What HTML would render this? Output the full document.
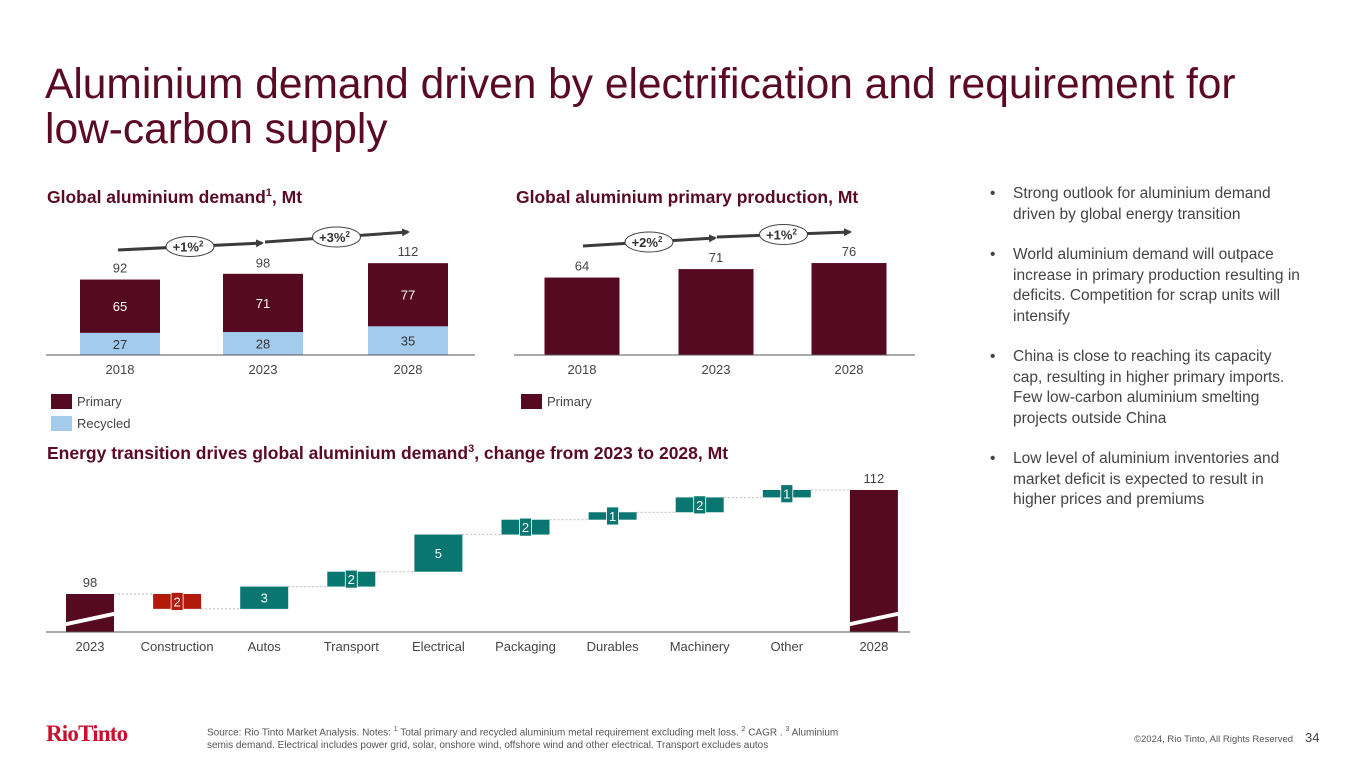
<!DOCTYPE html>
<html><head><meta charset="utf-8"><style>
body{margin:0;width:1365px;height:768px;background:#fff;font-family:"Liberation Sans",Arial,sans-serif;position:relative;overflow:hidden}
.abs{position:absolute}
h1{position:absolute;left:45px;top:62px;margin:0;font-weight:normal;font-size:42.5px;line-height:45px;color:#5a0a23;width:1260px}
.st{font-weight:bold;font-size:17.5px;color:#5a0a23}
.st sup{font-size:11px}
ul{position:absolute;left:990px;top:184px;margin:0;padding:0;list-style:none;font-size:15.5px;color:#444;line-height:20.5px;width:312px}
li{position:relative;padding-left:23px;margin-bottom:20px}
li:before{content:"•";position:absolute;left:0}
</style></head><body>
<h1>Aluminium demand driven by electrification and requirement for <span style="white-space:nowrap">low-carbon</span> supply</h1>
<div class="abs st" style="left:47px;top:187px">Global aluminium demand<sup>1</sup>, Mt</div>
<div class="abs st" style="left:516px;top:187px">Global aluminium primary production, Mt</div>
<div class="abs st" style="left:47px;top:443px">Energy transition drives global aluminium demand<sup>3</sup>, change from 2023 to 2028, Mt</div>
<ul>
<li>Strong outlook for aluminium demand driven by global energy transition</li>
<li>World aluminium demand will outpace increase in primary production resulting in deficits. Competition for scrap units will intensify</li>
<li>China is close to reaching its capacity cap, resulting in higher primary imports. Few low-carbon aluminium smelting projects outside China</li>
<li>Low level of aluminium inventories and market deficit is expected to result in higher prices and premiums</li>
</ul>
<div class="abs" style="left:46px;top:721px;font-family:'Liberation Serif',serif;font-size:23px;color:#c8102e;letter-spacing:-0.8px;font-weight:bold">RioTinto</div>
<div class="abs" style="left:207px;top:723px;font-size:10px;color:#555;line-height:13px;width:650px">Source: Rio Tinto Market Analysis. Notes: <sup style="font-size:7px">1</sup> Total primary and recycled aluminium metal requirement excluding melt loss. <sup style="font-size:7px">2</sup> CAGR . <sup style="font-size:7px">3</sup> Aluminium semis demand. Electrical includes power grid, solar, onshore wind, offshore wind and other electrical. Transport excludes autos</div>
<div class="abs" style="left:1134px;top:734px;font-size:9.5px;color:#555">©2024, Rio Tinto, All Rights Reserved</div>
<div class="abs" style="left:1305px;top:730px;font-size:13px;color:#444">34</div>
<svg id="c" class="abs" style="left:0;top:0" width="1365" height="768" font-family="Liberation Sans, Arial, sans-serif"></svg>
<script>
const demandYears=["2018","2023","2028"];
const demandPrimary=[65,71,77];
const demandRecycled=[27,28,35];
const demandTotals=[92,98,112];
const demandCagr=["+1%","+3%"];
const prodYears=["2018","2023","2028"];
const prodPrimary=[64,71,76];
const prodCagr=["+2%","+1%"];
const wfCategories=["2023","Construction","Autos","Transport","Electrical","Packaging","Durables","Machinery","Other","2028"];
const wfDeltas=[null,-2,3,2,5,2,1,2,1,null];
const wfStart=98;
const wfEnd=112;
const S=document.getElementById('c'),NS='http://www.w3.org/2000/svg';
function mk(t,a,p){const e=document.createElementNS(NS,t);for(const k in a)e.setAttribute(k,a[k]);(p||S).appendChild(e);return e;}
function txt(x,y,s,a,p){const e=mk('text',Object.assign({x:x,y:y,'text-anchor':'middle','font-size':13,fill:'#444'},a||{}),p);e.textContent=s;return e;}
const MAR='#560a22',REC='#a3cbed',TEAL='#0a7671',RED='#b21a0c';
mk('defs',{}).innerHTML='<marker id="ah" markerWidth="8" markerHeight="8" refX="6" refY="4" orient="auto" markerUnits="userSpaceOnUse"><path d="M0,0 L8,4 L0,8 z" fill="#3c3c3c"/></marker>';
function cagr(x1,y1,x2,y2,label,name){
 const g=mk('g',{});
 
 
 mk('line',{x1:x1,y1:y1,x2:x2,y2:y2,stroke:'#3c3c3c','stroke-width':3,'marker-end':'url(#ah)'},g);
 const cx=(x1+x2)/2,cy=(y1+y2)/2;
 mk('ellipse',{cx:cx,cy:cy,rx:24,ry:10,fill:'#fff',stroke:'#444','stroke-width':1},g);
 const t=txt(cx-2,cy+5,label,{'font-size':13,'font-weight':'bold',fill:'#333'},g);
 const s=document.createElementNS(NS,'tspan');s.setAttribute('dy','-5');s.setAttribute('font-size','8');s.textContent='2';t.appendChild(s);
}
(function(){
 const base=355,k=0.82,xs=[120,263,408],w=80;
 const y=v=>base-v*k;
 demandYears.forEach((yr,i)=>{
  const r=mk('rect',{x:xs[i]-w/2,y:y(demandRecycled[i]),width:w,height:demandRecycled[i]*k,fill:REC});
  
  const p=mk('rect',{x:xs[i]-w/2,y:y(demandRecycled[i]+demandPrimary[i]),width:w,height:demandPrimary[i]*k,fill:MAR});
  
  txt(xs[i],y(demandRecycled[i]/2)+5,demandRecycled[i],{fill:'#333'});
  txt(xs[i],y(demandRecycled[i]+demandPrimary[i]/2)+5,demandPrimary[i],{fill:'#fff'});
  txt(xs[i],y(demandTotals[i])-7,demandTotals[i]);
  txt(xs[i],374,yr);
 });
 mk('line',{x1:46,x2:475,y1:base,y2:base,stroke:'#555','stroke-width':1});
 cagr(118,250,262,243,demandCagr[0],'demand-cagr-2018-2023');
 cagr(265,242,408,232,demandCagr[1],'demand-cagr-2023-2028');
 const l1=mk('rect',{x:51,y:394,width:21,height:15,fill:MAR});
 txt(77,406,'Primary',{'text-anchor':'start'});
 const l2=mk('rect',{x:51,y:416,width:21,height:15,fill:REC});
 txt(77,428,'Recycled',{'text-anchor':'start'});
})();
(function(){
 const base=355,k=1.21,xs=[582,716,849],w=75;
 prodYears.forEach((yr,i)=>{
  const r=mk('rect',{x:xs[i]-w/2,y:base-prodPrimary[i]*k,width:w,height:prodPrimary[i]*k,fill:MAR});
  
  txt(xs[i],base-prodPrimary[i]*k-7,prodPrimary[i]);
  txt(xs[i],374,yr);
 });
 mk('line',{x1:514,x2:915,y1:base,y2:base,stroke:'#555','stroke-width':1});
 cagr(583,246,715,238,prodCagr[0],'production-cagr-2018-2023');
 cagr(717,237,850,232,prodCagr[1],'production-cagr-2023-2028');
 const l=mk('rect',{x:521,y:394,width:21,height:15,fill:MAR});
 txt(547,406,'Primary',{'text-anchor':'start'});
})();
(function(){
 const base=632,k=7.43,x0=90,dx=87.1,w=48;
 const y=v=>594-(v-wfStart)*k;
 let cum=wfStart;
 wfCategories.forEach((c,i)=>{
  const cx=x0+i*dx;
  if(i===0||i===wfCategories.length-1){
   const v=i===0?wfStart:wfEnd;
   const r=mk('rect',{x:cx-w/2,y:y(v),width:w,height:base-y(v),fill:MAR});
   
   mk('polygon',{points:`${cx-w/2-4},${base-9} ${cx+w/2+4},${base-21} ${cx+w/2+4},${base-17} ${cx-w/2-4},${base-5}`,fill:'#fff'});
   txt(cx,y(v)-7,v);
   if(i===0){mk('line',{x1:cx+w/2,x2:cx+dx-w/2,y1:y(v),y2:y(v),stroke:'#bbb','stroke-dasharray':'2,2'});}
  } else {
   const d=wfDeltas[i],nv=cum+d;
   const top=y(Math.max(cum,nv)),bot=y(Math.min(cum,nv));
   const r=mk('rect',{x:cx-w/2,y:top,width:w,height:bot-top,fill:d<0?RED:TEAL});
   
   const my=(top+bot)/2;
   if(bot-top<20){mk('rect',{x:cx-6,y:my-9,width:12,height:18,fill:d<0?RED:TEAL,stroke:'#fff','stroke-width':0.8});}
   txt(cx,my+5,Math.abs(d),{fill:'#fff'});
   mk('line',{x1:cx+w/2,x2:cx+dx-w/2,y1:y(nv),y2:y(nv),stroke:'#bbb','stroke-dasharray':'2,2'});
   cum=nv;
  }
  txt(cx,651,c);
 });
 mk('line',{x1:46,x2:910,y1:base,y2:base,stroke:'#555','stroke-width':1});
})();
</script>
</body></html>
